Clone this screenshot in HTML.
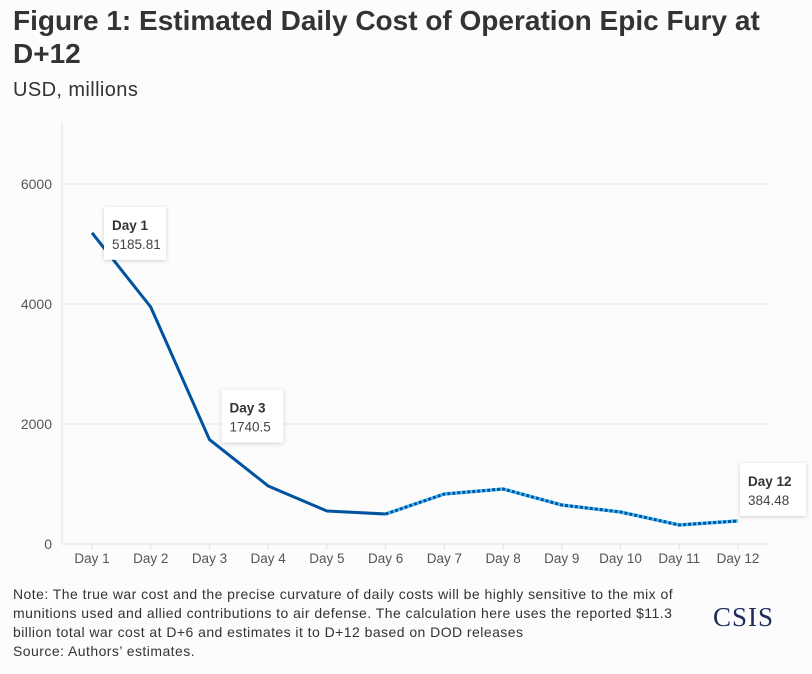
<!DOCTYPE html>
<html><head><meta charset="utf-8"><style>
body{margin:0;background:#fcfcfc;font-family:"Liberation Sans",sans-serif;}
#wrap{position:relative;width:812px;height:674px;overflow:hidden;background:#fcfcfc}
h1{position:absolute;left:13px;top:4px;margin:0;font-size:28px;line-height:33px;font-weight:bold;color:#333;width:790px;letter-spacing:0px}
.sub{position:absolute;left:13px;top:79px;font-size:20px;color:#333;letter-spacing:0.4px}
.note{position:absolute;left:13px;top:585px;font-size:14px;line-height:19px;color:#333;width:720px;white-space:nowrap;letter-spacing:0.45px}
.logo{position:absolute;left:713px;top:602px;font-family:"Liberation Serif",serif;font-size:27px;color:#1f2a5c;letter-spacing:1px}
</style></head><body>
<div id="wrap">
<h1>Figure 1: Estimated Daily Cost of Operation Epic Fury at D+12</h1>
<div class="sub">USD, millions</div>
<svg id="chart" width="812" height="674" style="position:absolute;left:0;top:0"></svg>
<div class="note">Note: The true war cost and the precise curvature of daily costs will be highly sensitive to the mix of<br>munitions used and allied contributions to air defense. The calculation here uses the reported $11.3<br>billion total war cost at D+6 and estimates it to D+12 based on DOD releases<br>Source: Authors’ estimates.</div>
<div class="logo">CSIS</div>
</div>
<script>
const categories=["Day 1","Day 2","Day 3","Day 4","Day 5","Day 6","Day 7","Day 8","Day 9","Day 10","Day 11","Day 12"];
const values=[5185.81,3950,1740.5,967,550,500,833,917,650,533,317,384.48];
const yTicks=[0,2000,4000,6000];
const labeled=[0,2,11];
const tipDy={0:-26,2:-50,11:-58};
const NS="http://www.w3.org/2000/svg";
const svg=document.getElementById('chart');
const x=i=>92+i*(738-92)/11;
const y=v=>544-v*0.06;
function mk(t,a){const e=document.createElementNS(NS,t);for(const k in a)e.setAttribute(k,a[k]);svg.appendChild(e);return e;}
yTicks.forEach(t=>{
 if(t>0){const g=mk('line',{x1:62,x2:768,y1:y(t),y2:y(t),stroke:'#e6e6e6'});
 
 }
 const l=mk('text',{x:52,y:y(t)+5,'text-anchor':'end','font-size':'14','fill':'#555','font-family':'Liberation Sans'});
 l.textContent=t;
 
 
});
const ax=mk('line',{x1:62,x2:62,y1:122,y2:544,stroke:'#e0e0e0'});


const bx=mk('line',{x1:62,x2:768,y1:544,y2:544,stroke:'#e0e0e0'});


categories.forEach((c,i)=>{
 mk('line',{x1:x(i),x2:x(i),y1:544,y2:549,stroke:'#e0e0e0'});
 const t=mk('text',{x:x(i),y:563,'text-anchor':'middle','font-size':'13.5','fill':'#555','font-family':'Liberation Sans'});
 t.textContent=c;
 
 
});
const solid=values.slice(0,6).map((v,i)=>x(i)+','+y(v)).join(' ');
const dash=values.slice(5).map((v,i)=>x(i+5)+','+y(v)).join(' ');
const s=mk('polyline',{points:solid,fill:'none',stroke:'#0053a0','stroke-width':3,'stroke-linejoin':'round'});


const d1=mk('polyline',{points:dash,fill:'none',stroke:'#4fc3f7','stroke-width':3.5});


const d2=mk('polyline',{points:dash,fill:'none',stroke:'#0053a0','stroke-width':3,'stroke-dasharray':'3 2'});


labeled.forEach(i=>{
 const px=x(i)+(i==11?2:12),py=y(values[i])+tipDy[i],w=(i==11?66:62);
 const g=document.createElementNS(NS,'g');svg.appendChild(g);
 
 
 const r=document.createElementNS(NS,'rect');
 [['x',px],['y',py],['width',w],['height',53],['fill','#fff'],['filter','drop-shadow(0 1px 2px rgba(0,0,0,0.18))']].forEach(a=>r.setAttribute(a[0],a[1]));g.appendChild(r);
 const t1=document.createElementNS(NS,'text');t1.setAttribute('x',px+8);t1.setAttribute('y',py+23);t1.setAttribute('font-size','13.5');t1.setAttribute('font-weight','bold');t1.setAttribute('fill','#333');t1.textContent=categories[i];g.appendChild(t1);
 const t2=document.createElementNS(NS,'text');t2.setAttribute('x',px+8);t2.setAttribute('y',py+42);t2.setAttribute('font-size','13.5');t2.setAttribute('fill','#444');t2.textContent=values[i];g.appendChild(t2);
});
</script>
</body></html>
